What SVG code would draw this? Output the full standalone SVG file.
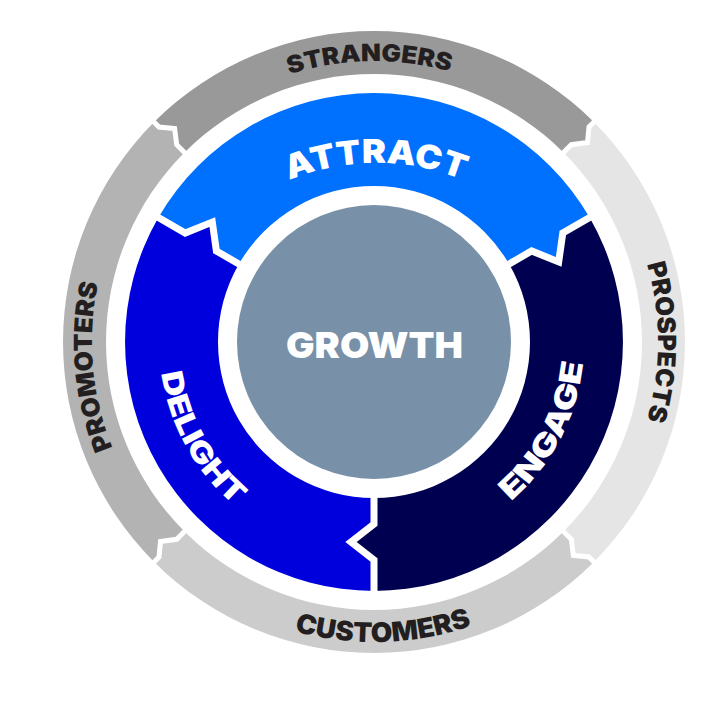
<svg xmlns="http://www.w3.org/2000/svg" width="715" height="711" viewBox="0 0 715 711">
<style>
.lbl{font-family:Inter,"Open Sans","Liberation Sans",sans-serif;font-weight:900}
.dk{fill:#231f20}
.wt{fill:#ffffff}
.gap{fill:none;stroke:#ffffff;stroke-linejoin:miter;stroke-miterlimit:10}
.g1{stroke-width:7}
.g2{stroke-width:5}
</style>
<defs>
<path id="pStr" d="M128.7,205.3 A281,281 0 0 1 614.9,197.3"/>
<path id="pPros" d="M516,96.1 A284,284 0 0 1 516,587.9"/>
<path id="pCus" d="M119,500.1 A300,300 0 0 0 638.4,483.8"/>
<path id="pProm" d="M254.8,597.6 A282,282 0 0 1 212.2,111"/>
<path id="pAtt" d="M176.8,278 A230,230 0 0 1 575.2,278"/>
<path id="pEng" d="M383.2,551.8 A210,210 0 0 0 551.1,229.2"/>
<path id="pDel" d="M190.6,231.8 A213,213 0 0 0 370.3,556"/>
</defs>
<rect width="715" height="711" fill="#ffffff"/>

<g id="strangers">
<path fill="#999999" d="M184.5,152.5 L176.7,144.7 L174.6,128.5 L159,127 L154.1,122.1 A311,311 0 0 1 593.9,122.1 L589,127 L587.5,142.6 L571.3,144.7 L563.5,152.5 A268,268 0 0 0 184.5,152.5 Z"/>
<text class="lbl dk" font-size="24"><textPath href="#pStr" startOffset="50%" text-anchor="middle" textLength="163" lengthAdjust="spacingAndGlyphs">STRANGERS</textPath></text>
</g>
<g id="prospects">
<path fill="#e5e5e5" d="M563.5,152.5 L571.3,144.7 L587.5,142.6 L589,127 L593.9,122.1 A311,311 0 0 1 593.9,561.9 L589,557 L573.4,555.5 L571.3,539.3 L563.5,531.5 A268,268 0 0 0 563.5,152.5 Z"/>
<text class="lbl dk" font-size="25"><textPath href="#pPros" startOffset="50%" text-anchor="middle" textLength="158" lengthAdjust="spacingAndGlyphs">PROSPECTS</textPath></text>
</g>
<g id="customers">
<path fill="#cccccc" d="M563.5,531.5 L571.3,539.3 L573.4,555.5 L589,557 L593.9,561.9 A311,311 0 0 1 154.1,561.9 L159,557 L160.5,541.4 L176.7,539.3 L184.5,531.5 A268,268 0 0 0 563.5,531.5 Z"/>
<text class="lbl dk" font-size="27"><textPath href="#pCus" startOffset="50%" text-anchor="middle" textLength="180" lengthAdjust="spacingAndGlyphs">CUSTOMERS</textPath></text>
</g>
<g id="promoters">
<path fill="#b3b3b3" d="M184.5,531.5 L176.7,539.3 L160.5,541.4 L159,557 L154.1,561.9 A311,311 0 0 1 154.1,122.1 L159,127 L174.6,128.5 L176.7,144.7 L184.5,152.5 A268,268 0 0 0 184.5,531.5 Z"/>
<text class="lbl dk" font-size="25"><textPath href="#pProm" startOffset="50%" text-anchor="middle" textLength="168" lengthAdjust="spacingAndGlyphs">PROMOTERS</textPath></text>
</g>

<g id="attract">
<path fill="#0070ff" d="M238.9,264 L216.4,251 L212.3,222.1 L185.2,233 L158.4,217.5 A249,249 0 0 1 589.6,217.5 L562.8,233 L558.7,261.9 L531.6,251 L509.1,264 A156,156 0 0 0 238.9,264 Z"/>
<text class="lbl wt" font-size="33"><textPath href="#pAtt" startOffset="50%" text-anchor="middle" textLength="178" lengthAdjust="spacingAndGlyphs">ATTRACT</textPath></text>
</g>
<g id="engage">
<path fill="#000050" d="M509.1,264 L531.6,251 L558.7,261.9 L562.8,233 L589.6,217.5 A249,249 0 0 1 374,591 L374,560 L351,542 L374,524 L374,498 A156,156 0 0 0 509.1,264 Z"/>
<text class="lbl wt" font-size="30"><textPath href="#pEng" startOffset="50%" text-anchor="middle" textLength="160" lengthAdjust="spacingAndGlyphs">ENGAGE</textPath></text>
</g>
<g id="delight">
<path fill="#0000dc" d="M374,498 L374,524 L351,542 L374,560 L374,591 A249,249 0 0 1 158.4,217.5 L185.2,233 L212.3,222.1 L216.4,251 L238.9,264 A156,156 0 0 0 374,498 Z"/>
<text class="lbl wt" font-size="29"><textPath href="#pDel" startOffset="50%" text-anchor="middle" textLength="155" lengthAdjust="spacingAndGlyphs">DELIGHT</textPath></text>
</g>

<g id="growth">
<circle cx="374" cy="342" r="137" fill="#7891a8"/>
<text class="lbl wt" x="374.5" y="358" font-size="36" text-anchor="middle" textLength="177" lengthAdjust="spacingAndGlyphs">GROWTH</text>
</g>

<g id="connectors">
<polyline class="gap g1" points="502.2,268 531.6,251 558.7,261.9 562.8,233 595.7,214"/>
<polyline class="gap g1" points="374,490 374,524 351,542 374,560 374,598"/>
<polyline class="gap g1" points="245.8,268 216.4,251 212.3,222.1 185.2,233 152.3,214"/>
<polyline class="gap g2" points="559.3,156.7 571.3,144.7 587.5,142.6 589,127 598.2,117.8"/>
<polyline class="gap g2" points="559.3,527.3 571.3,539.3 573.4,555.5 589,557 598.2,566.2"/>
<polyline class="gap g2" points="188.7,527.3 176.7,539.3 160.5,541.4 159,557 149.8,566.2"/>
<polyline class="gap g2" points="188.7,156.7 176.7,144.7 174.6,128.5 159,127 149.8,117.8"/>
</g>
</svg>
